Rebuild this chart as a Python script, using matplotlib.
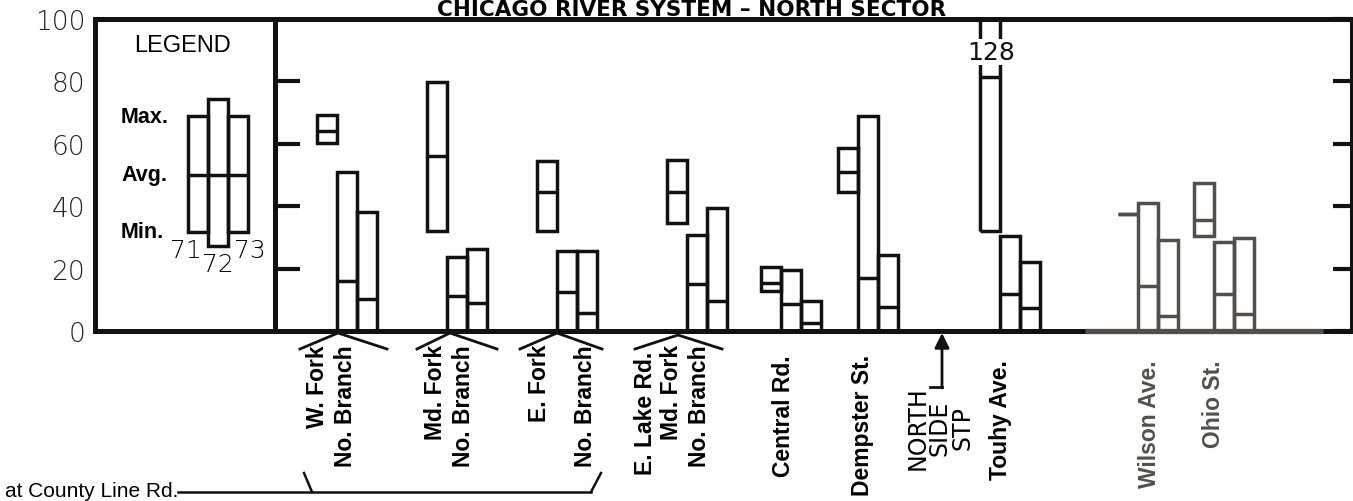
import matplotlib
matplotlib.use("Agg")
import matplotlib.pyplot as plt

# ---------------- data ----------------
years = ["71", "72", "73"]
stations = ["W. Fork / No. Branch", "Md. Fork / No. Branch", "E. Fork / No. Branch",
            "E. Lake Rd. / Md. Fork / No. Branch", "Central Rd.", "Dempster St.",
            "Touhy Ave.", "Wilson Ave.", "Ohio St."]
max_71 = [69.2, 79.8, 54.5, 54.8, 20.5, 58.7, 128.0, 37.5, 47.4]
avg_71 = [64.1, 56.1, 44.6, 44.6, 15.4, 51.0, 81.4, 37.5, 35.6]
min_71 = [60.3, 32.0, 32.0, 34.6, 12.8, 44.6, 32.0, 37.5, 30.4]
max_72 = [51.0, 23.7, 25.6, 30.8, 19.6, 68.9, 30.4, 41.0, 28.5]
avg_72 = [16.0, 11.2, 12.5, 15.0, 8.7, 17.0, 11.9, 14.4, 11.9]
min_72 = [0, 0, 0, 0, 0, 0, 0, 0, 0]
max_73 = [38.1, 26.3, 25.6, 39.4, 9.6, 24.4, 22.1, 29.2, 29.8]
avg_73 = [10.3, 9.0, 5.8, 9.6, 2.6, 7.7, 7.4, 4.8, 5.4]
min_73 = [0, 0, 0, 0, 0, 0, 0, 0, 0]
legend_max = [68.9, 74.4, 68.9]
legend_avg = [50.0, 50.0, 50.0]
legend_min = [31.7, 27.2, 31.7]
yticks = [0, 20, 40, 60, 80, 100]
ytick_labels = ["0", "20", "40", "60", "80", "100"]
off_scale_label = "128"

# ---------------- layout (pixel-like x units) ----------------
W, H = 1353, 502
station_x = [347, 457, 567, 697, 791, 868, 1010, 1148, 1224]
legend_x = 218
bw = 20
gray_stations = {7, 8}
BLACK = "#111111"
GRAY = "#544f4a"
LW = 2.5

def ypx(p):  # pixel row -> data value (for decorations only)
    return (332 - p) / 3.12

fig = plt.figure(figsize=(W / 100, H / 100), dpi=100)
fig.patch.set_facecolor("white")
ax = fig.add_axes([95 / W, 1 - 332 / H, (1352 - 95) / W, (332 - 20) / H])
ax.set_xlim(95, 1352)
ax.set_ylim(0, 100)
for s in ax.spines.values():
    s.set_linewidth(3.6)
    s.set_color(BLACK)

ax.set_xticks([])
ax.set_yticks(yticks)
ax.set_yticklabels(ytick_labels, fontsize=19, family="DejaVu Sans", fontweight="light", color="#222222")
ax.tick_params(axis="y", left=False, pad=7)
# right inner ticks
ax.tick_params(axis="y", which="both", right=True, direction="in", length=14, width=3, color=BLACK)
for t in [20, 40, 60, 80]:
    ax.hlines(t, 275, 300, color=BLACK, lw=3)
ax.axvline(275, color=BLACK, lw=3.6)
# gray bottom line patch
ax.plot([1085, 1323], [0, 0], color=GRAY, lw=3.8, solid_capstyle="butt", clip_on=False, zorder=5)

def draw_bar(x, mx, av, mn, color):
    ax.bar(x, mx - mn, bottom=mn, width=bw, fill=False, edgecolor=color, linewidth=LW, zorder=3)
    ax.hlines(av, x - bw / 2, x + bw / 2, color=color, lw=LW, zorder=3)

series = [(max_71, avg_71, min_71, -bw), (max_72, avg_72, min_72, 0), (max_73, avg_73, min_73, bw)]
for mxs, avs, mns, off in series:
    for i, cx in enumerate(station_x):
        c = GRAY if i in gray_stations else BLACK
        draw_bar(cx + off, mxs[i], avs[i], mns[i], c)

# off-scale label on Touhy 71
ax.text(station_x[6] - bw + 1, ypx(53), off_scale_label, ha="center", va="center", fontsize=18,
        family="DejaVu Sans", color=BLACK, zorder=6,
        bbox=dict(facecolor="white", edgecolor="none", pad=0.5))

# legend
for k in range(3):
    draw_bar(legend_x + (k - 1) * bw, legend_max[k], legend_avg[k], legend_min[k], BLACK)
ax.text(182, ypx(46), "LEGEND", ha="center", va="center", fontsize=17, family="Liberation Sans")
for lab, yy in [("Max.", 118), ("Avg.", 176), ("Min.", 233)]:
    ax.text(121, ypx(yy), lab, ha="left", va="center", fontsize=15.5, family="Liberation Sans",
            fontweight="bold")
for lab, xx, yy in [("71", 186, 251), ("72", 218, 265), ("73", 250, 251)]:
    ax.text(xx, ypx(yy), lab, ha="center", va="center", fontsize=18, family="DejaVu Sans",
            fontweight="light")

# station labels under the axis
labels = [("W. Fork", 318, 345), ("No. Branch", 346, 345), ("Md. Fork", 435, 345),
          ("No. Branch", 463, 345), ("E. Fork", 540, 345), ("No. Branch", 585, 345),
          ("E. Lake Rd.", 646, 352), ("Md. Fork", 672, 345), ("No. Branch", 700, 345),
          ("Central Rd.", 783, 355), ("Dempster St.", 862, 355), ("Touhy Ave.", 1000, 360)]
for txt, xx, yy in labels:
    ax.text(xx, ypx(yy), txt, rotation=90, ha="center", va="top", fontsize=16.5,
            family="Liberation Sans", fontweight="bold", clip_on=False)
for txt, xx, yy in [("Wilson Ave.", 1150, 360), ("Ohio St.", 1213, 360)]:
    ax.text(xx, ypx(yy), txt, rotation=90, ha="center", va="top", fontsize=16.5,
            family="Liberation Sans", fontweight="bold", color=GRAY, clip_on=False)
ax.text(940, ypx(386), "NORTH\nSIDE\nSTP", rotation=90, ha="center", va="top", fontsize=17,
        family="DejaVu Sans", multialignment="center", linespacing=0.9, clip_on=False)

# arrow for the treatment plant
ax.plot([930, 942], [ypx(388), ypx(388)], color=BLACK, lw=2, clip_on=False)
ax.annotate("", xy=(942, ypx(334)), xytext=(942, ypx(389)), annotation_clip=False,
            arrowprops=dict(arrowstyle="-|>", lw=2, color=BLACK, mutation_scale=22,
                            shrinkA=0, shrinkB=0))

# confluence chevrons
for pts in [[(300, 350), (338, 334), (387, 350)], [(417, 350), (450, 334), (497, 350)],
            [(520, 350), (557, 334), (602, 350)], [(635, 350), (678, 336), (722, 350)]]:
    ax.plot([p[0] for p in pts], [ypx(p[1]) for p in pts], color=BLACK, lw=2, clip_on=False)

# County line bracket
ax.plot([178, 312, 591], [ypx(493), ypx(493), ypx(493)], color=BLACK, lw=1.8, clip_on=False)
ax.plot([304, 312], [ypx(474), ypx(493)], color=BLACK, lw=1.8, clip_on=False)
ax.plot([601, 591], [ypx(474), ypx(493)], color=BLACK, lw=1.8, clip_on=False)
fig.text(5 / W, 1 - 492 / H, "at County Line Rd.", ha="left", va="center", fontsize=15,
         family="Liberation Sans")

# title
fig.text(692 / W, 1 - 16 / H, "CHICAGO RIVER SYSTEM \u2013 NORTH SECTOR", ha="center", va="baseline",
         fontsize=15.5, family="DejaVu Sans", fontweight="bold")

fig.savefig("out.png", dpi=100, facecolor="white")
